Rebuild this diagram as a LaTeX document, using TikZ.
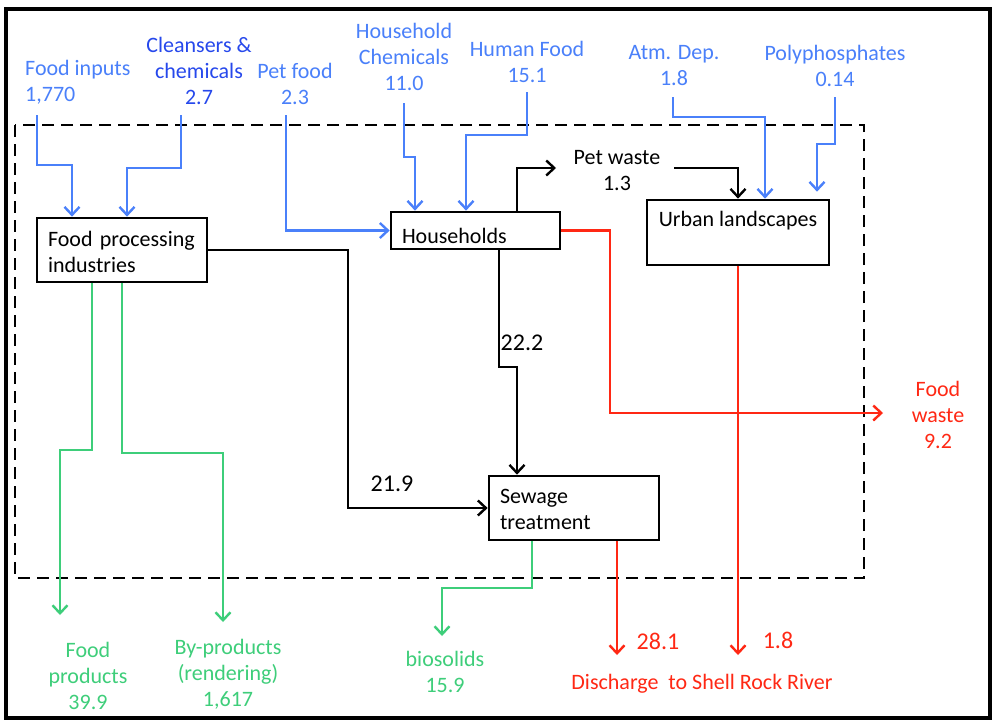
\documentclass[tikz,border=0pt]{standalone}
\usepackage{fontspec}
\setmainfont{Carlito}
\usetikzlibrary{arrows.meta}
\definecolor{cblue}{RGB}{74,128,250}
\definecolor{cdblue}{RGB}{38,72,236}
\definecolor{cgreen}{RGB}{62,206,122}
\definecolor{cred}{RGB}{255,40,20}
\begin{document}
\begin{tikzpicture}[x=1pt,y=-1pt,
  txt/.style={font=\fontsize{22}{26}\selectfont,inner sep=0pt,align=center},
  bignum/.style={font=\fontsize{24}{28}\selectfont,inner sep=0pt},
  box/.style={draw,line width=2.7pt,inner ysep=0pt,inner xsep=11pt,
    font=\fontsize{22}{26}\selectfont,align=left},
  flow/.style={line width=2.6pt,-{Straight Barb[length=8pt,width=15pt,line width=2.4pt]}},
  bflow/.style={flow,draw=cblue},
  kflow/.style={flow,draw=black},
  gflow/.style={flow,draw=cgreen},
  rflow/.style={flow,draw=cred}]
\useasboundingbox (0,0) rectangle (995,721);
\fill[white] (0,0) rectangle (995,721);
\draw[line width=4.5pt] (6,9) rectangle (990,718);
\draw[line width=2.8pt,dash pattern=on 12pt off 7pt] (15,125) rectangle (864,578);

% boxes
\node[box,minimum width=170pt,minimum height=64pt,text width=148pt,text height=14pt,text depth=21pt] (fp) at (122,250) {Food processing\\industries};
\node[box,minimum width=169pt,minimum height=37pt,text width=147pt,text height=25pt,text depth=0pt] (hh) at (475.5,230.5) {Households};
\node[box,minimum width=182pt,minimum height=65pt,align=center,text height=14pt,text depth=27pt] (ul) at (738,232.5) {Urban landscapes};
\node[box,minimum width=170pt,minimum height=64pt,text width=148pt,text height=14pt,text depth=24pt] (st) at (574,508) {Sewage\\treatment};

% labels
\node[txt,align=left,anchor=west,text=cblue] (fil) at (25,82) {Food inputs\\1,770};
\node[txt,text=cdblue] (cll) at (199,71) {Cleansers \&\\chemicals\\2.7};
\node[txt,text=cblue] (pfl) at (295,84) {Pet food\\2.3};
\node[txt,text=cblue] (hcl) at (404,57) {Household\\Chemicals\\11.0};
\node[txt,text=cblue] (hfl) at (527,62) {Human Food\\15.1};
\node[txt,text=cblue] (atl) at (674,66) {Atm. Dep.\\1.8};
\node[txt,text=cblue] (ppl) at (835,66) {Polyphosphates\\0.14};
\node[txt] (pwl) at (617,171) {Pet waste\\1.3};
\node[txt,text=cred] (fwl) at (938,415) {Food\\waste\\9.2};
\node[txt,text=cred] (dsl) at (702,684) {Discharge\ \ to Shell Rock River};
\node[bignum,text=cred] (n281) at (658,641) {28.1};
\node[bignum,text=cred] (n18) at (778,640) {1.8};
\node[bignum] (n222) at (522,343) {22.2};
\node[bignum] (n219) at (392,484) {21.9};
\node[txt,text=cgreen] (fdl) at (88,676) {Food\\products\\39.9};
\node[txt,text=cgreen] (bpl) at (228,674) {By-products\\(rendering)\\1,617};
\node[txt,text=cgreen] (bsl) at (445,672) {biosolids\\15.9};

% coordinates
\coordinate (fiS) at (37,115);   \coordinate (fiB) at (72,165);
\coordinate (clS) at (181,115);  \coordinate (clB) at (127,168);
\coordinate (pfS) at (286,115);
\coordinate (hcS) at (404,103);  \coordinate (hcB) at (415,157);
\coordinate (hfS) at (527,92);   \coordinate (hfB) at (466,135);
\coordinate (atS) at (673,97);   \coordinate (atB) at (765,117);
\coordinate (ppS) at (835,97);   \coordinate (ppB) at (817,144);
\coordinate (hpB) at (517,168);  \coordinate (pwE) at (556,168);
\coordinate (pwS) at (674,168);  \coordinate (puB) at (738,168);
\coordinate (hsA) at (499,367);  \coordinate (hsB) at (517,367);
\coordinate (fsB) at (348,380);
\coordinate (fpA) at (92,450);   \coordinate (fpB) at (60,450);   \coordinate (fpE) at (60,615);
\coordinate (bpA) at (122,453);  \coordinate (bpB) at (223,453);  \coordinate (bpE) at (223,622);
\coordinate (bsA) at (532,588);  \coordinate (bsB) at (442,588);  \coordinate (bsE) at (442,636);
\coordinate (fwA) at (610,413);  \coordinate (fwE) at (883,413);
\coordinate (stR) at (617,655);  \coordinate (ulR) at (738,655);

% blue inputs
\draw[bflow] (fiS) |- (fiB) -- (fiB |- fp.north);
\draw[bflow] (clS) |- (clB) -- (clB |- fp.north);
\draw[bflow] (pfS) |- (hh.west);
\draw[bflow] (hcS) |- (hcB) -- (hcB |- hh.north);
\draw[bflow] (hfS) |- (hfB) -- (hfB |- hh.north);
\draw[bflow] (atS) |- (atB) -- (atB |- ul.north);
\draw[bflow,shorten >=7pt] (ppS) |- (ppB) -- (ppB |- ul.north);

% black flows
\draw[kflow] (hpB |- hh.north) -- (hpB) -- (pwE);
\draw[kflow] (pwS) -- (puB) -- (puB |- ul.north);
\draw[kflow] (hsA |- hh.south) -- (hsA) -- (hsB) -- (hsB |- st.north);
\draw[kflow] (fp.east) -| (fsB) |- (st.west);

% green flows
\draw[gflow] (fpA |- fp.south) -- (fpA) -- (fpB) -- (fpE);
\draw[gflow] (bpA |- fp.south) -- (bpA) -- (bpB) -- (bpE);
\draw[gflow] (bsA |- st.south) -- (bsA) -- (bsB) -- (bsE);

% red flows
\draw[rflow] (hh.east) -| (fwA) -- (fwE);
\draw[rflow] (ulR |- ul.south) -- (ulR);
\draw[rflow] (stR |- st.south) -- (stR);
\end{tikzpicture}
\end{document}
